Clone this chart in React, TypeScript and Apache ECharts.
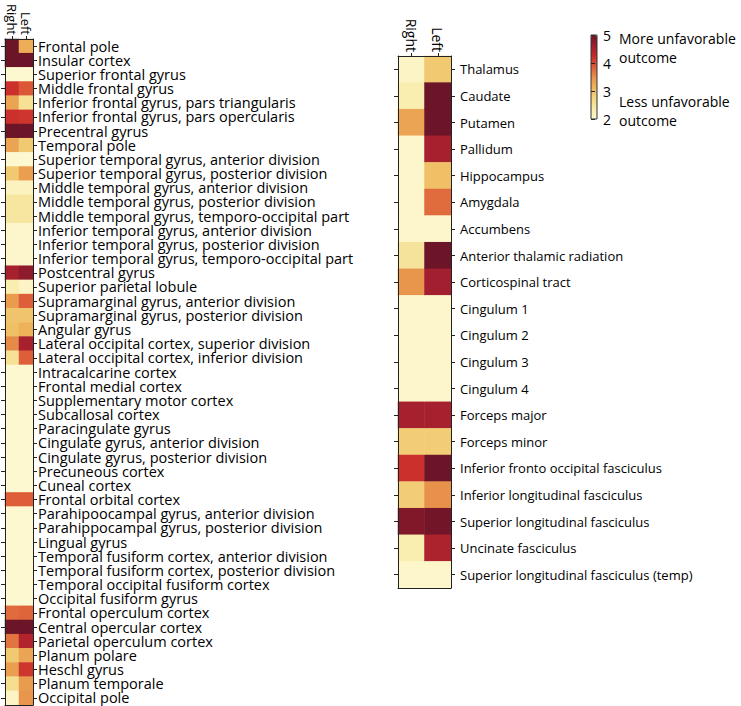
import React, { useEffect, useRef } from "react";
import * as echarts from "echarts";

const sides = ["Right", "Left"];

const corticalRegions = [
  "Frontal pole",
  "Insular cortex",
  "Superior frontal gyrus",
  "Middle frontal gyrus",
  "Inferior frontal gyrus, pars triangularis",
  "Inferior frontal gyrus, pars opercularis",
  "Precentral gyrus",
  "Temporal pole",
  "Superior temporal gyrus, anterior division",
  "Superior temporal gyrus, posterior division",
  "Middle temporal gyrus, anterior division",
  "Middle temporal gyrus, posterior division",
  "Middle temporal gyrus, temporo-occipital part",
  "Inferior temporal gyrus, anterior division",
  "Inferior temporal gyrus, posterior division",
  "Inferior temporal gyrus, temporo-occipital part",
  "Postcentral gyrus",
  "Superior parietal lobule",
  "Supramarginal gyrus, anterior division",
  "Supramarginal gyrus, posterior division",
  "Angular gyrus",
  "Lateral occipital cortex, superior division",
  "Lateral occipital cortex, inferior division",
  "Intracalcarine cortex",
  "Frontal medial cortex",
  "Supplementary motor cortex",
  "Subcallosal cortex",
  "Paracingulate gyrus",
  "Cingulate gyrus, anterior division",
  "Cingulate gyrus, posterior division",
  "Precuneous cortex",
  "Cuneal cortex",
  "Frontal orbital cortex",
  "Parahipoocampal gyrus, anterior division",
  "Parahippocampal gyrus, posterior division",
  "Lingual gyrus",
  "Temporal fusiform cortex, anterior division",
  "Temporal fusiform cortex, posterior division",
  "Temporal occipital fusiform cortex",
  "Occipital fusiform gyrus",
  "Frontal operculum cortex",
  "Central opercular cortex",
  "Parietal operculum cortex",
  "Planum polare",
  "Heschl gyrus",
  "Planum temporale",
  "Occipital pole",
];

const corticalRight = [
  5.0, 5.0, 2.0, 4.2, 3.3, 4.2, 5.0, 3.3, 2.0, 2.9,
  2.15, 2.45, 2.45, 2.05, 2.05, 2.05, 4.55, 2.3, 3.4, 2.95,
  3.0, 3.55, 2.55, 2.0, 2.0, 2.0, 2.0, 2.0, 2.0, 2.0,
  2.0, 2.0, 3.85, 2.0, 2.0, 2.0, 2.0, 2.0, 2.0, 2.0,
  3.75, 5.0, 3.7, 2.9, 3.35, 2.6, 2.1,
];

const corticalLeft = [
  3.2, 5.0, 2.0, 3.9, 2.55, 4.15, 5.0, 2.9, 2.0, 3.35,
  2.15, 2.45, 2.45, 2.05, 2.05, 2.05, 4.75, 2.1, 3.85, 2.95,
  3.15, 4.55, 3.85, 2.0, 2.0, 2.0, 2.0, 2.0, 2.0, 2.0,
  2.0, 2.0, 3.85, 2.0, 2.0, 2.0, 2.0, 2.0, 2.0, 2.0,
  3.8, 5.0, 4.45, 3.3, 4.15, 3.4, 3.45,
];

const subcorticalRegions = [
  "Thalamus",
  "Caudate",
  "Putamen",
  "Pallidum",
  "Hippocampus",
  "Amygdala",
  "Accumbens",
  "Anterior thalamic radiation",
  "Corticospinal tract",
  "Cingulum 1",
  "Cingulum 2",
  "Cingulum 3",
  "Cingulum 4",
  "Forceps major",
  "Forceps minor",
  "Inferior fronto occipital fasciculus",
  "Inferior longitudinal fasciculus",
  "Superior longitudinal fasciculus",
  "Uncinate fasciculus",
  "Superior longitudinal fasciculus (temp)",
];

const subcorticalRight = [
  2.1, 2.3, 3.3, 2.05, 2.05, 2.05, 2.05, 2.5, 3.45, 2.05,
  2.05, 2.05, 2.05, 4.55, 2.85, 4.2, 2.85, 4.85, 2.3, 2.05,
];

const subcorticalLeft = [
  2.9, 5.0, 5.0, 4.55, 3.0, 3.75, 2.05, 5.0, 4.6, 2.05,
  2.05, 2.05, 2.05, 4.55, 2.85, 5.0, 3.5, 4.95, 4.5, 2.05,
];

const colorbarTopText = "More unfavorable\noutcome";
const colorbarBottomText = "Less unfavorable\noutcome";

const palette = [
  "#fdf8cf", "#f8eaa8", "#f3d680", "#eeb55a", "#e7914a",
  "#dc5a37", "#c8292a", "#9e1e2e", "#6c1428",
];

const FONT = "Open Sans";
const TEXT = "#000";

function toCells(right: number[], left: number[]) {
  const out: number[][] = [];
  right.forEach((v, i) => out.push([0, i, v]));
  left.forEach((v, i) => out.push([1, i, v]));
  return out;
}

export default function App() {
  const ref = useRef<HTMLDivElement>(null);

  useEffect(() => {
    if (!ref.current) return;
    const chart = echarts.init(ref.current, null, { renderer: "svg" });

    const grids = [
      { left: 5, top: 39, width: 28, height: 666 },
      { left: 398, top: 56, width: 53, height: 532 },
      { left: 591, top: 35, width: 6, height: 84 },
    ];

    const lineStyle = { color: "#222", width: 1 };

    const topX = (gi: number, fs: number) => ({
      type: "category",
      gridIndex: gi,
      position: "top",
      data: sides,
      z: 5,
      axisLine: { show: true, lineStyle },
      axisTick: { show: true, alignWithLabel: true, interval: 0, length: 3, lineStyle },
      axisLabel: {
        rotate: 90,
        interval: 0,
        hideOverlap: false,
        fontFamily: FONT,
        fontSize: fs,
        color: TEXT,
        margin: 4,
      },
    });
    const bottomX = (gi: number) => ({
      type: "category",
      gridIndex: gi,
      position: "bottom",
      data: sides,
      z: 5,
      axisLine: { show: true, lineStyle },
      axisTick: { show: false },
      axisLabel: { show: false },
    });
    const rightY = (gi: number, names: string[], fs: number, lh: number, margin: number) => ({
      type: "category",
      gridIndex: gi,
      position: "right",
      inverse: true,
      data: names,
      z: 5,
      axisLine: { show: true, lineStyle },
      axisTick: { show: true, alignWithLabel: true, interval: 0, length: 4, lineStyle },
      axisLabel: {
        interval: 0,
        hideOverlap: false,
        fontFamily: FONT,
        fontSize: fs,
        lineHeight: lh,
        color: TEXT,
        margin,
      },
    });
    const leftY = (gi: number, names: string[]) => ({
      type: "category",
      gridIndex: gi,
      position: "left",
      inverse: true,
      data: names,
      z: 5,
      axisLine: { show: true, lineStyle },
      axisTick: { show: true, alignWithLabel: true, length: 4, interval: 0, lineStyle },
      axisLabel: { show: false },
    });

    chart.setOption({
      animation: false,
      grid: grids,
      xAxis: [
        topX(0, 13),
        bottomX(0),
        topX(1, 14),
        bottomX(1),
        { type: "value", gridIndex: 2, show: false, min: 0, max: 1 },
      ],
      yAxis: [
        rightY(0, corticalRegions, 14.5, 14, 5),
        leftY(0, corticalRegions),
        rightY(1, subcorticalRegions, 13, 18, 9),
        leftY(1, subcorticalRegions),
        {
          type: "value",
          gridIndex: 2,
          position: "right",
          min: 2,
          max: 5,
          interval: 1,
          z: 5,
          splitLine: { show: false },
          axisLine: { show: false },
          axisTick: { show: true, length: 4, lineStyle },
          axisLabel: { fontFamily: FONT, fontSize: 14, color: TEXT, margin: 6 },
        },
      ],
      visualMap: {
        type: "continuous",
        min: 2,
        max: 5,
        seriesIndex: [0, 1],
        calculable: false,
        hoverLink: false,
        show: true,
        left: 591,
        top: 35,
        padding: 0,
        itemWidth: 6,
        itemHeight: 84,
        text: ["", ""],
        showLabel: false,
        inRange: { color: palette },
      },
      series: [
        {
          type: "heatmap",
          xAxisIndex: 0,
          yAxisIndex: 0,
          data: toCells(corticalRight, corticalLeft),
          itemStyle: { borderWidth: 0 },
          emphasis: { disabled: true },
        },
        {
          type: "heatmap",
          xAxisIndex: 2,
          yAxisIndex: 2,
          data: toCells(subcorticalRight, subcorticalLeft),
          itemStyle: { borderWidth: 0 },
          emphasis: { disabled: true },
        },
      ],
      graphic: [
        {
          type: "rect",
          shape: { x: 591, y: 35, width: 6, height: 84 },
          style: { fill: "none", stroke: "#333", lineWidth: 1 },
          z: 100,
        },
        {
          type: "text",
          x: 619,
          y: 29,
          style: {
            text: colorbarTopText,
            fontFamily: FONT,
            fontSize: 14,
            lineHeight: 19,
            fill: TEXT,
          },
        },
        {
          type: "text",
          x: 619,
          y: 92,
          style: {
            text: colorbarBottomText,
            fontFamily: FONT,
            fontSize: 14,
            lineHeight: 19,
            fill: TEXT,
          },
        },
      ],
    });

    return () => chart.dispose();
  }, []);

  return (
    <div
      ref={ref}
      style={{ position: "fixed", left: 0, top: 0, width: 741, height: 706, background: "#fff" }}
    />
  );
}
